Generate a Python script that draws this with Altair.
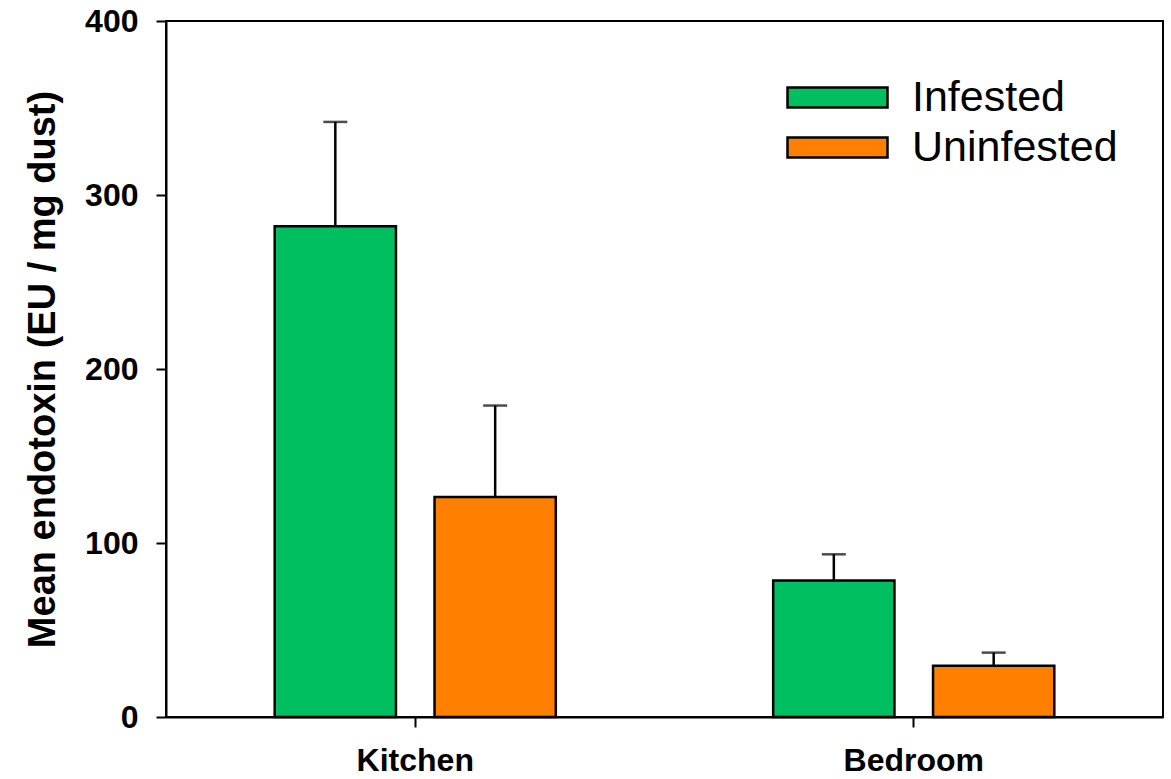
import altair as alt
import pandas as pd

# Mean endotoxin per room, with standard error
rooms = ["Kitchen", "Kitchen", "Bedroom", "Bedroom"]
status = ["Infested", "Uninfested", "Infested", "Uninfested"]
mean_eu = [282, 126.5, 78.5, 29.5]
se_eu = [60, 52.5, 15, 7.5]

room_order = ["Kitchen", "Bedroom"]
status_order = ["Infested", "Uninfested"]
status_colors = ["#00BF60", "#FF8000"]

df = pd.DataFrame({"room": rooms, "status": status, "mean": mean_eu, "se": se_eu})
df["upper"] = df["mean"] + df["se"]

FONT = "Liberation Sans"

x_enc = alt.X(
    "room:N",
    sort=room_order,
    scale=alt.Scale(paddingInner=0, paddingOuter=0),
    axis=alt.Axis(
        title=None,
        labelFont=FONT,
        labelFontSize=32,
        labelFontWeight="bold",
        labelColor="black",
        labelAngle=0,
        labelPadding=18,
        labelBaseline="top",
        tickSize=10,
        tickWidth=2,
        tickColor="black",
        domainColor="black",
        domainWidth=2,
        grid=False,
    ),
)
xoff_enc = alt.XOffset(
    "status:N",
    sort=status_order,
    scale=alt.Scale(paddingInner=0.2414, paddingOuter=0.68),
)
y_scale = alt.Scale(domain=[0, 400], nice=False, zero=True)

# wide flat legend swatch: small nominal size, long path
swatch = "M-5,-1H5V1H-5Z"

bars = alt.Chart(df).mark_bar(stroke="black", strokeWidth=2.5).encode(
    x=x_enc,
    xOffset=xoff_enc,
    y=alt.Y(
        "mean:Q",
        scale=y_scale,
        axis=alt.Axis(
            title="Mean endotoxin (EU / mg dust)",
            titleFont=FONT,
            titleFontSize=38,
            titleFontWeight="bold",
            titleColor="black",
            titlePadding=22,
            values=[0, 100, 200, 300, 400],
            labelFont=FONT,
            labelFontSize=32,
            labelFontWeight="bold",
            labelColor="black",
            labelPadding=18,
            tickSize=10,
            tickWidth=2,
            tickColor="black",
            domainColor="black",
            domainWidth=2,
            grid=False,
        ),
    ),
    color=alt.Color(
        "status:N",
        sort=status_order,
        scale=alt.Scale(domain=status_order, range=status_colors),
        legend=alt.Legend(
            title=None,
            orient="none",
            legendX=650,
            legendY=55,
            padding=0,
            symbolType=swatch,
            symbolSize=400,
            symbolStrokeColor="black",
            symbolStrokeWidth=2.5,
            symbolOpacity=1,
            labelFont=FONT,
            labelFontSize=43,
            labelColor="black",
            labelOffset=53,
            labelLimit=400,
            rowPadding=6,
        ),
    ),
)

err_rule = alt.Chart(df).mark_rule(color="black", strokeWidth=2.5).encode(
    x=alt.X("room:N", sort=room_order),
    xOffset=alt.XOffset("status:N", sort=status_order),
    y=alt.Y("mean:Q", scale=y_scale),
    y2="upper:Q",
)

err_cap = alt.Chart(df).mark_tick(color="black", thickness=2.5, size=24).encode(
    x=alt.X("room:N", sort=room_order),
    xOffset=alt.XOffset("status:N", sort=status_order),
    y=alt.Y("upper:Q", scale=y_scale),
)

chart = (
    alt.layer(bars, err_rule, err_cap)
    .properties(
        width=997,
        height=696,
        autosize=alt.AutoSizeParams(type="none"),
        padding={"left": 166, "top": 21, "right": 8, "bottom": 62},
        background="white",
    )
    .configure_view(stroke="black", strokeWidth=2)
)

chart.save("out.html", embed_options={"renderer": "svg", "actions": False})
